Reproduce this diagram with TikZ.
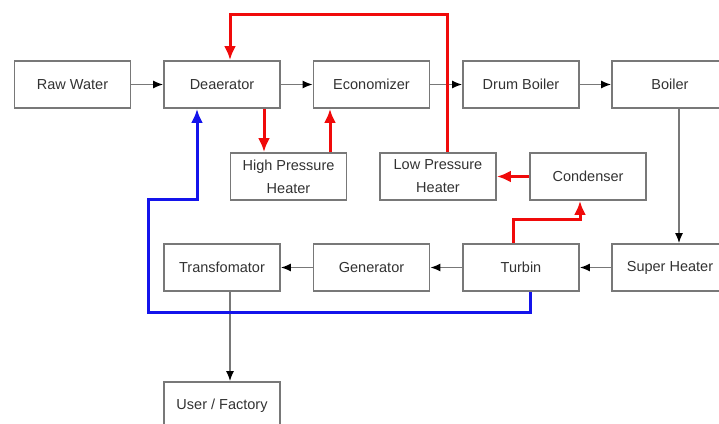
\documentclass[tikz,border=0pt]{standalone}
\usepackage{fontspec}
\setmainfont{Liberation Sans}
\usepackage{xcolor}
\usetikzlibrary{arrows.meta}
\definecolor{boxgray}{RGB}{120,120,120}
\definecolor{txtgray}{RGB}{50,50,50}
\definecolor{hotred}{RGB}{240,10,10}
\definecolor{coolblue}{RGB}{20,20,235}

\begin{document}
\begin{tikzpicture}[x=1pt,y=-1pt,
  unit/.style={draw=boxgray, line width=1.8pt, minimum width=116pt, minimum height=47pt, inner sep=0pt, text=txtgray, font=\fontsize{14.5}{23}\selectfont, align=center},
  flow/.style={draw=boxgray, line width=1.5pt, -{Latex[length=10pt,width=8pt,color=black]}},
  hot/.style={draw=hotred, line width=3pt, -{Latex[length=14pt,width=12pt]}},
  cool/.style={draw=coolblue, line width=3pt, -{Latex[length=14pt,width=12pt]}}]
\useasboundingbox (0,0) rectangle (719,423);
\clip (0,0) rectangle (719,423);
\node[unit] (raw) at (72.5,84.5) {Raw Water};
\node[unit] (deaerator) at (222,84.5) {Deaerator};
\node[unit] (economizer) at (371.5,84.5) {Economizer};
\node[unit] (drum) at (521,84.5) {Drum Boiler};
\node[unit] (boiler) at (670,84.5) {Boiler};
\node[unit] (hph) at (288.5,176.5) {High Pressure\\Heater};
\node[unit] (lph) at (438,176.5) {Low Pressure\\Heater};
\node[unit] (condenser) at (588,176.5) {Condenser};
\node[unit] (transformer) at (222,267.5) {Transfomator};
\node[unit] (generator) at (371.5,267.5) {Generator};
\node[unit] (turbin) at (521,267.5) {Turbin};
\node[unit] (superheater) at (670,267.5) {Super Heater};
\node[unit] (user) at (222,405.5) {User / Factory};
\coordinate (bend) at (148,199);

\draw[flow] (raw) -- (deaerator);
\draw[flow] (deaerator) -- (economizer);
\draw[flow] (economizer) -- (drum);
\draw[flow] (drum) -- (boiler);
\draw[flow] ([xshift=9]boiler.south) -- ([xshift=9]superheater.north);
\draw[flow] (superheater) -- (turbin);
\draw[flow] (turbin) -- (generator);
\draw[flow] (generator) -- (transformer);
\draw[flow] ([xshift=8]transformer.south) -- ([xshift=8]user.north);

\draw[hot] ([xshift=42]deaerator.south) -- ([xshift=-24.5]hph.north);
\draw[hot] ([xshift=41.5]hph.north) -- ([xshift=-41.5]economizer.south);
\draw[hot] ([xshift=9]lph.north) -- ++(0,-138) -| ([xshift=8]deaerator.north);
\draw[hot] (condenser.west) -- (lph.east);
\draw[hot] ([xshift=-8]turbin.north) -- ++(0,-24) -| ([xshift=-8]condenser.south);
\draw[cool] ([xshift=9]turbin.south) -- ++(0,21) -| (bend) -| ([xshift=-25]deaerator.south);
\end{tikzpicture}
\end{document}
